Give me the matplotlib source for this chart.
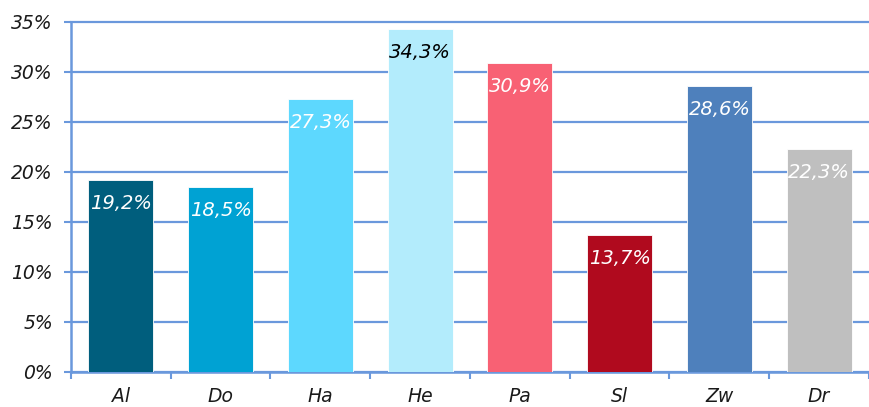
import numpy as np
import matplotlib.pyplot as plt
from matplotlib.ticker import MultipleLocator, FuncFormatter

categories = ['Al', 'Do', 'Ha', 'He', 'Pa', 'Sl', 'Zw', 'Dr']
values = [19.2, 18.5, 27.3, 34.3, 30.9, 13.7, 28.6, 22.3]
colors = ['#005E7D', '#00A2D3', '#5DD8FE', '#B3ECFC',
          '#F86174', '#B00A1E', '#4E80BC', '#BFBFBF']
label_colors = ['white', 'white', 'white', 'black',
                'white', 'white', 'white', 'white']

grid_blue = '#6A98DC'

fig = plt.figure(figsize=(8.69, 4.07), dpi=100)
ax = fig.add_axes([0.0817, 0.086, 0.9183, 0.86])

x = np.arange(len(categories))
bars = ax.bar(x, values, width=0.65, color=colors, edgecolor='white',
              linewidth=0.6, zorder=3)

for b, v, c in zip(bars, values, label_colors):
    ax.annotate(f'{v:.1f}%'.replace('.', ','),
                (b.get_x() + b.get_width() / 2, v),
                xytext=(0, -17), textcoords='offset points',
                ha='center', va='center', color=c,
                fontsize=14, style='italic', zorder=4)

ax.set_xlim(-0.5, len(categories) - 0.5)
ax.set_ylim(0, 35)
ax.yaxis.set_major_locator(MultipleLocator(5))
ax.yaxis.set_major_formatter(FuncFormatter(lambda v, _: f'{v:.0f}%'))
ax.grid(axis='y', color=grid_blue, linewidth=1.6, zorder=0)
for gl in ax.get_ygridlines():
    gl.set_clip_on(False)

ax.set_xticks(x)
ax.set_xticklabels(categories)
ax.set_xticks(np.arange(-0.5, len(categories)), minor=True)
ax.tick_params(axis='x', which='major', length=0, pad=11)
ax.tick_params(axis='x', which='minor', length=5, width=1.5,
               color=grid_blue, direction='out')
ax.tick_params(axis='y', length=5, width=1.5, color=grid_blue, pad=8)

for lbl in ax.get_xticklabels() + ax.get_yticklabels():
    lbl.set_fontsize(13.5)
    lbl.set_fontstyle('italic')
    lbl.set_color('#1a1a1a')

for side in ['top', 'right']:
    ax.spines[side].set_visible(False)
for side in ['left', 'bottom']:
    ax.spines[side].set_color(grid_blue)
    ax.spines[side].set_linewidth(1.8)

fig.savefig('out.png', dpi=100)
